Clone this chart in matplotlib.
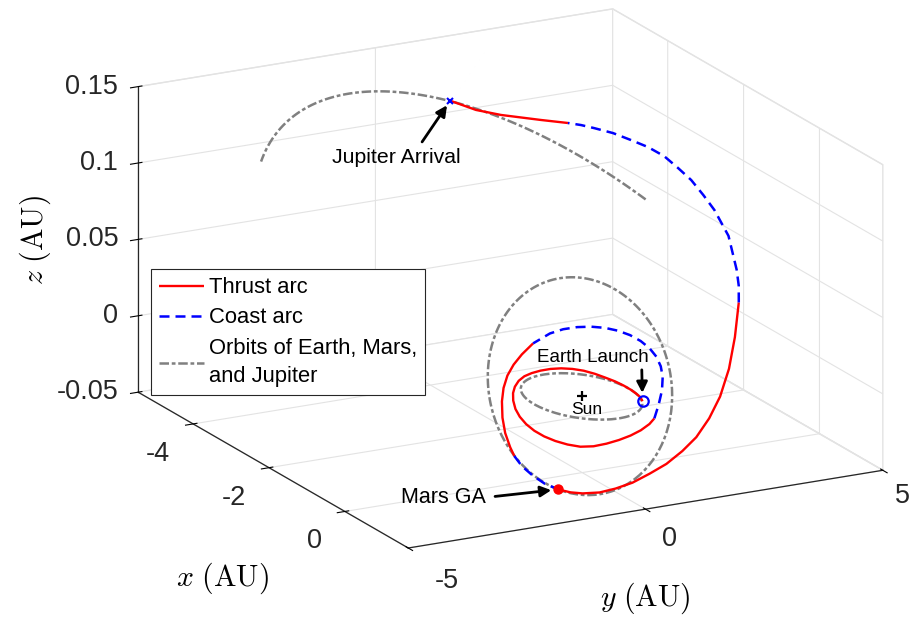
import numpy as np
import matplotlib
matplotlib.use('Agg')
import matplotlib.pyplot as plt
from mpl_toolkits.mplot3d import proj3d

plt.rcParams['font.family'] = ['Liberation Sans', 'DejaVu Sans']
plt.rcParams['mathtext.fontset'] = 'cm'
plt.rcParams['axes.unicode_minus'] = False
plt.rcParams['grid.color'] = '#e3e3e3'
plt.rcParams['grid.linewidth'] = 0.8

# orbital elements: a (AU), e, inclination (deg), node (deg), long. of perihelion (deg)
earth_elems = (1.0000, 0.0167, 0.00, 0.00, 102.94)
mars_elems = (1.5237, 0.0934, 1.85, 49.56, 336.06)
jupiter_elems = (5.2034, 0.0484, 1.30, 100.46, 14.33)
jupiter_lon = (130, 218)

# trajectory arcs: (heliocentric longitude deg, radius AU, z AU)
thrust1 = [(58, 1.000, 0.0), (70, 1.010, -0.0005), (80, 1.018, -0.001), (90, 1.026, -0.001),
           (100, 1.034, -0.0008), (110, 1.042, -0.0004), (120, 1.050, 0.0), (130, 1.058, 0.0008),
           (140, 1.066, 0.0015), (150, 1.074, 0.0018), (160, 1.082, 0.0018), (170, 1.090, 0.0015),
           (180, 1.098, 0.001), (190, 1.106, 0.0005), (200, 1.114, 0.0), (210, 1.122, -0.001),
           (220, 1.130, -0.0025), (230, 1.138, -0.004), (240, 1.148, -0.006), (250, 1.159, -0.0085),
           (260, 1.170, -0.0105), (270, 1.180, -0.0123), (280, 1.191, -0.0137), (290, 1.201, -0.0147),
           (300, 1.212, -0.0153), (310, 1.223, -0.0156), (320, 1.233, -0.0155), (330, 1.243, -0.0142),
           (340, 1.254, -0.012), (350, 1.265, -0.0097), (360, 1.275, -0.0075), (370, 1.286, -0.0053),
           (380, 1.297, -0.003), (387, 1.304, -0.0009)]
coast1 = [(387, 1.304, -0.0009), (395, 1.312, 0.006), (405, 1.322, 0.0125), (415, 1.328, 0.018),
          (425, 1.331, 0.0215), (435, 1.332, 0.0243), (445, 1.332, 0.0263), (455, 1.331, 0.0277),
          (465, 1.330, 0.0285), (475, 1.328, 0.0287), (485, 1.327, 0.0283), (495, 1.326, 0.0273),
          (505, 1.325, 0.0258), (515, 1.324, 0.0238), (525, 1.324, 0.021), (539, 1.323, 0.0155)]
thrust2 = [(539, 1.323, 0.0155), (550, 1.322, 0.0099), (560, 1.321, 0.0052), (570, 1.321, 0.0005),
           (580, 1.320, -0.0048), (590, 1.321, -0.0104), (600, 1.327, -0.0177), (610, 1.337, -0.0243),
           (620, 1.350, -0.0300), (626, 1.358, -0.0336)]
coast2 = [(626, 1.358, -0.0336), (635, 1.368, -0.0372), (645, 1.380, -0.0399), (655, 1.390, -0.0424),
          (665, 1.399, -0.0437)]
thrust3 = [(665.00, 1.3990, -0.0437), (673.77, 1.4527, -0.0432), (681.61, 1.4750, -0.0424),
           (692.12, 1.5302, -0.0400), (702.00, 1.5570, -0.0368), (712.77, 1.5892, -0.0330),
           (724.84, 1.6093, -0.0285), (736.40, 1.6918, -0.0235), (748.02, 1.7955, -0.0175),
           (756.84, 1.9404, -0.0105), (771.18, 2.0905, -0.0040), (780.18, 2.2974, 0.0060),
           (790.37, 2.5558, 0.0180), (796.79, 2.7835, 0.0340), (804.51, 3.0789, 0.0500)]
coast3 = [(804.51, 3.0789, 0.0500), (808.68, 3.2403, 0.0570), (812.99, 3.4015, 0.0630),
          (817.64, 3.5818, 0.0690), (821.83, 3.7835, 0.0750), (825.66, 3.9275, 0.0790),
          (829.20, 4.0877, 0.0830), (833.68, 4.2917, 0.0870), (837.90, 4.5077, 0.0910),
          (841.61, 4.6727, 0.0940), (845.21, 4.8458, 0.0970), (848.72, 4.9543, 0.0990),
          (852.21, 5.0516, 0.1000), (855.64, 5.0895, 0.1020), (859.19, 5.1185, 0.1030),
          (861.58, 5.1435, 0.1035), (863.96, 5.1671, 0.1035)]
thrust4 = [(863.96, 5.1671, 0.1035), (868.87, 5.1906, 0.1035), (876.21, 5.2176, 0.1050),
           (880.67, 5.2866, 0.1070), (885.00, 5.4197, 0.1113)]

sun = (0.0, 0.0, 0.0)
earth_launch = (0.530, 0.848, 0.0)
mars_ga = (0.8024, -1.146, -0.0437)
jupiter_arrival = (-5.235, 1.403, 0.1113)

xlim = (-5.45, 1.67)
ylim = (-5, 5)
zlim = (-0.05, 0.15)
x_ticks = [-4, -2, 0]
y_ticks = [-5, 0, 5]
z_ticks = [-0.05, 0, 0.05, 0.1, 0.15]
z_ticklabels = ['-0.05', '0', '0.05', '0.1', '0.15']


def orbit_xyz(elems, lon_deg):
    a, e, inc, node, peri = elems
    lon = np.radians(lon_deg)
    r = a * (1 - e**2) / (1 + e * np.cos(lon - np.radians(peri)))
    z = r * np.sin(np.radians(inc)) * np.sin(lon - np.radians(node))
    return r * np.cos(lon), r * np.sin(lon), z


def arc_xyz(arc):
    th, r, z = np.array(arc).T
    th = np.radians(th)
    return r * np.cos(th), r * np.sin(th), z


fig = plt.figure(figsize=(9.12, 6.18), dpi=100)
ax = fig.add_axes([0.0952, -0.1361, 0.9046, 1.3350], projection='3d', proj_type='ortho')
ax.set_box_aspect((571.5, 535.0, 319.5))
ax.view_init(elev=17.9, azim=-28.05)
ax.computed_zorder = False

ax.set_xlim(*xlim)
ax.set_ylim(*ylim)
ax.set_zlim(*zlim)
ax.zaxis.set_ticks_position('lower')

for axis in (ax.xaxis, ax.yaxis, ax.zaxis):
    axis.set_pane_color((1, 1, 1, 1))
    axis.pane.set_edgecolor('#e3e3e3')
    axis.line.set_color('#262626')
    axis.line.set_linewidth(0.9)

orbit_style = dict(color='#808080', lw=1.8, linestyle=(0, (3.8, 1.1, 1.5, 1.1)), zorder=1)
full = np.arange(0, 361, 2)
ax.plot(*orbit_xyz(earth_elems, full), **orbit_style)
ax.plot(*orbit_xyz(mars_elems, full), **orbit_style)
orb_line, = ax.plot(*orbit_xyz(jupiter_elems, np.arange(jupiter_lon[0], jupiter_lon[1] + 1, 1)),
                    **orbit_style)

thrust_style = dict(color='red', lw=1.7, solid_capstyle='butt', solid_joinstyle='round', zorder=3)
coast_style = dict(color='blue', lw=1.8, linestyle=(0, (4.0, 2.4)), zorder=3)
for arc in (thrust1, thrust2, thrust3, thrust4):
    thrust_line, = ax.plot(*arc_xyz(arc), **thrust_style)
for arc in (coast1, coast2, coast3):
    coast_line, = ax.plot(*arc_xyz(arc), **coast_style)

ax.plot(*[[v] for v in sun], marker='+', color='black', ms=7, mew=1.6, zorder=5)
ax.plot(*[[v] for v in earth_launch], marker='o', mfc='none', mec='blue', ms=7.5, mew=1.6, zorder=5)
ax.plot(*[[v] for v in mars_ga], marker='o', color='red', ms=6.5, zorder=5)
ax.plot(*[[v] for v in jupiter_arrival], marker='x', color='blue', ms=5, mew=1.5, zorder=5)

ax.set_xticks(x_ticks, labels=[''] * len(x_ticks))
ax.set_yticks(y_ticks, labels=[''] * len(y_ticks))
ax.set_zticks(z_ticks, labels=[''] * len(z_ticks))

fig.text(0.2434, 0.0647, r'$x\ (\mathrm{AU})$', fontsize=21.5, ha='center', va='center')
fig.text(0.7072, 0.0324, r'$y\ (\mathrm{AU})$', fontsize=21.5, ha='center', va='center')
fig.text(0.0384, 0.6117, r'$z\ (\mathrm{AU})$', fontsize=21.5, ha='center', va='center', rotation=90)

M = ax.get_proj()


def to2d(p):
    x2, y2, _ = proj3d.proj_transform(*p, M)
    return x2, y2


# tick labels, offset (points) from the tick positions on the three axis edges
tick_font = dict(fontsize=19.5, color='#262626', textcoords='offset points', va='center')
for t in x_ticks:
    ax.annotate(f'{t:g}', xy=to2d((t, ylim[0], zlim[0])), xytext=(-16.5, -21.6), ha='right', **tick_font)
y_offsets = [(28.0, -23.8), (17.5, -21.4), (14.2, -18.5)]
for t, off in zip(y_ticks, y_offsets):
    ax.annotate(f'{t:g}', xy=to2d((xlim[1], t, zlim[0])), xytext=off, ha='center', **tick_font)
for t, lab in zip(z_ticks, z_ticklabels):
    ax.annotate(lab, xy=to2d((xlim[0], ylim[0], t)), xytext=(-14.4, 0), ha='right', **tick_font)

arrow = dict(arrowstyle='-|>', color='black', lw=2, mutation_scale=16)
ax.annotate('Jupiter Arrival', xy=to2d(jupiter_arrival), xytext=(-39, -41), textcoords='offset points',
            ha='center', va='center', fontsize=15.3,
            arrowprops=dict(arrow, relpos=(0.67, 1.0), shrinkA=3, shrinkB=4))
ax.annotate('Earth Launch', xy=to2d(earth_launch), xytext=(-36, 31.7), textcoords='offset points',
            ha='center', va='center', fontsize=13.5,
            arrowprops=dict(arrow, relpos=(0.94, 0.0), shrinkA=1, shrinkB=6))
ax.annotate('Mars GA', xy=to2d(mars_ga), xytext=(-83, -5.8), textcoords='offset points',
            ha='center', va='center', fontsize=15.5,
            arrowprops=dict(arrow, relpos=(1.0, 0.5), shrinkA=5, shrinkB=5))
ax.annotate('Sun', xy=to2d(sun), xytext=(3, -9.4), textcoords='offset points',
            ha='center', va='center', fontsize=12.5)

leg = ax.legend([thrust_line, coast_line, orb_line],
                ['Thrust arc', 'Coast arc', 'Orbits of Earth, Mars,\nand Jupiter'],
                loc='upper left', bbox_to_anchor=(0.1652, 0.5642), bbox_transform=fig.transFigure,
                borderaxespad=0, fontsize=15.8, handlelength=2.08, handletextpad=0.22,
                borderpad=0.36, labelspacing=0.42, fancybox=False, framealpha=1, edgecolor='#262626')
leg.get_frame().set_linewidth(0.8)
for t in leg.get_texts():
    t.set_linespacing(1.47)

fig.savefig('out.png', dpi=100)
